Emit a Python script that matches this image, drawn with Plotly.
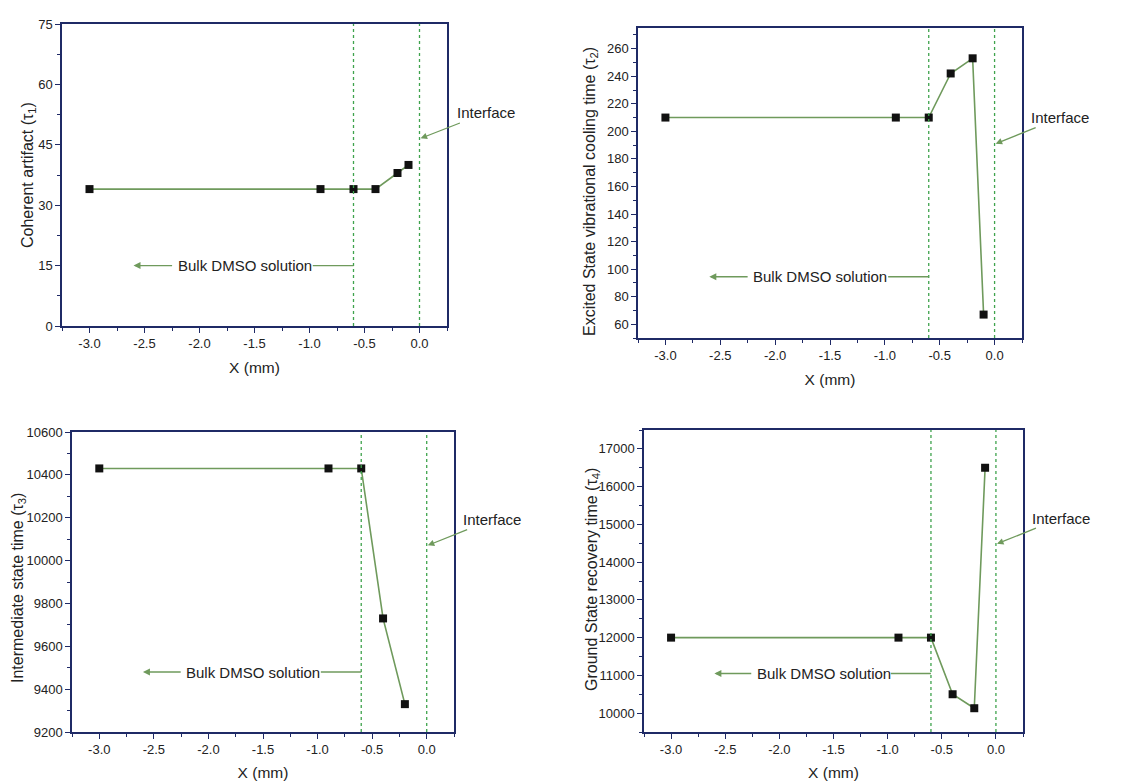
import plotly.graph_objects as go

# ---------------- data ----------------
x_pos_1 = [-3.0, -0.9, -0.6, -0.4, -0.2, -0.1]
tau_1 = [34, 34, 34, 34, 38, 40]
x_pos_2 = [-3.0, -0.9, -0.6, -0.4, -0.2, -0.1]
tau_2 = [210, 210, 210, 242, 253, 67]
x_pos_3 = [-3.0, -0.9, -0.6, -0.4, -0.2]
tau_3 = [10430, 10430, 10430, 9730, 9330]
x_pos_4 = [-3.0, -0.9, -0.6, -0.4, -0.2, -0.1]
tau_4 = [12000, 12000, 12000, 10500, 10130, 16500]

y_titles = [
    "Coherent artifact (τ<sub>1</sub>)",
    "Excited State vibrational cooling time (τ<sub>2</sub>)",
    "Intermediate state time (τ<sub>3</sub>)",
    "Ground State recovery time (τ<sub>4</sub>)",
]
x_title = "X (mm)"
y_ranges = [[0, 75], [50, 275], [9200, 10600], [9500, 17500]]
y_dticks = [15, 20, 200, 1000]
x_tick_vals = [-3.0, -2.5, -2.0, -1.5, -1.0, -0.5, 0.0]
x_tick_text = ["-3.0", "-2.5", "-2.0", "-1.5", "-1.0", "-0.5", "0.0"]
x_minor_vals = [-3.25, -2.75, -2.25, -1.75, -1.25, -0.75, -0.25, 0.25]
boundary_x = [-0.6, 0.0]
bulk_label = "Bulk DMSO solution"
bulk_y = [15, 94.5, 9480, 11050]
interface_label = "Interface"
interface_text_y = [52.9, 210, 10191, 15163]
interface_tip_y = [46.6, 191, 10071, 14485]

# ---------------- style / layout ----------------
W, H = 1138, 781
panel_px = [  # left, right, top, bottom in pixels
    (62, 447, 24, 326),
    (638, 1022, 28, 338),
    (72, 454, 432, 732),
    (644, 1023, 430, 732),
]
ytitle_px = [(28, 175), (591, 192), (18, 588), (592, 580)]  # centre of y titles
AXC = "#1f2a66"
LINEC = "#6f9a5c"
DOTC = "#3fa34d"
TXT = "#222222"
FONT = "Liberation Sans, Arial, sans-serif"
x_range = [-3.25, 0.25]

series = [(x_pos_1, tau_1), (x_pos_2, tau_2), (x_pos_3, tau_3), (x_pos_4, tau_4)]

fig = go.Figure()
layout = dict(
    template="none",
    width=W, height=H, margin=dict(l=0, r=0, t=0, b=0, pad=0, autoexpand=False),
    paper_bgcolor="white", plot_bgcolor="white", showlegend=False,
    font=dict(family=FONT, color=TXT, size=13),
)
shapes, annotations = [], []

for i, ((xs, ys), (l, r, t, b)) in enumerate(zip(series, panel_px), start=1):
    sfx = "" if i == 1 else str(i)
    xa, ya = f"x{sfx}", f"y{sfx}"
    fig.add_trace(go.Scatter(
        x=xs, y=ys, xaxis=xa, yaxis=ya, mode="lines+markers",
        line=dict(color=LINEC, width=1.6),
        marker=dict(symbol="square", size=8, color="#111111"),
        cliponaxis=False,
    ))
    xdom = [l / W, r / W]
    ydom = [1 - b / H, 1 - t / H]
    layout[f"xaxis{sfx}"] = dict(
        domain=xdom, anchor=ya, range=x_range, tickmode="array",
        tickvals=x_tick_vals, ticktext=x_tick_text, ticks="outside", ticklen=5,
        tickcolor=AXC, showline=True, linecolor=AXC, linewidth=1.5, mirror=True,
        showgrid=False, zeroline=False, automargin=False,
        tickfont=dict(size=13, color=TXT),
        title=dict(text=x_title, font=dict(size=15.5, color=TXT), standoff=12),
        minor=dict(tickmode="array", tickvals=x_minor_vals, ticks="outside",
                   ticklen=3, tickcolor=AXC, showgrid=False),
    )
    layout[f"yaxis{sfx}"] = dict(
        domain=ydom, anchor=xa, range=y_ranges[i - 1], dtick=y_dticks[i - 1],
        tick0=0, tickformat="d", ticks="outside", ticklen=5, tickcolor=AXC,
        showline=True, linecolor=AXC, linewidth=1.5, mirror=True, showgrid=False,
        zeroline=False, automargin=False, tickfont=dict(size=13, color=TXT),
        minor=dict(dtick=y_dticks[i - 1] / 2, ticks="outside", ticklen=3,
                   tickcolor=AXC, showgrid=False),
    )
    tx, ty = ytitle_px[i - 1]
    annotations.append(dict(xref="paper", yref="paper", x=tx / W, y=1 - ty / H,
                            xanchor="center", yanchor="middle", textangle=-90,
                            text=y_titles[i - 1], showarrow=False,
                            font=dict(size=16, color=TXT)))
    # inside ticks on top / right
    j = i + 4
    layout[f"xaxis{j}"] = dict(
        overlaying=xa, anchor=ya, side="top", range=x_range, tickmode="array",
        tickvals=x_tick_vals, ticks="inside", ticklen=5, tickcolor=AXC,
        showticklabels=False, showgrid=False, zeroline=False, showline=False,
        automargin=False,
    )
    layout[f"yaxis{j}"] = dict(
        overlaying=ya, anchor=xa, side="right", range=y_ranges[i - 1],
        dtick=y_dticks[i - 1] / 2, tick0=0, ticks="inside", ticklen=5,
        tickcolor=AXC, showticklabels=False, showgrid=False, zeroline=False,
        showline=False, automargin=False,
    )
    for bx in boundary_x:
        shapes.append(dict(type="line", xref=xa, yref=f"{ya} domain",
                           x0=bx, x1=bx, y0=0, y1=1,
                           line=dict(color=DOTC, width=1.3, dash="dot")))
    # Bulk DMSO solution label, with arrow pointing left into the bulk
    annotations.append(dict(xref=xa, yref=ya, x=-2.6, y=bulk_y[i - 1],
                            axref=xa, ayref=ya, ax=-1.59, ay=bulk_y[i - 1],
                            text=bulk_label, showarrow=True, arrowhead=2,
                            arrowsize=1, arrowwidth=1.4, arrowcolor=LINEC,
                            borderpad=5, font=dict(size=15, color=TXT)))
    shapes.append(dict(type="line", xref=xa, yref=ya, x0=-0.97, x1=boundary_x[0],
                       y0=bulk_y[i - 1], y1=bulk_y[i - 1],
                       line=dict(color=LINEC, width=1.4)))
    # Interface label
    annotations.append(dict(xref=xa, yref=ya, x=0.01, y=interface_tip_y[i - 1],
                            axref=xa, ayref=ya, ax=0.60, ay=interface_text_y[i - 1],
                            text=interface_label, showarrow=True, arrowhead=2,
                            arrowsize=1, arrowwidth=1.3, arrowcolor=LINEC,
                            font=dict(size=15, color=TXT)))

layout["shapes"] = shapes
layout["annotations"] = annotations
fig.update_layout(**layout)
fig.write_html(
    "out.html",
    config={"displayModeBar": False},
    post_script="document.body.style.margin='0px';document.body.style.overflow='hidden';",
)
